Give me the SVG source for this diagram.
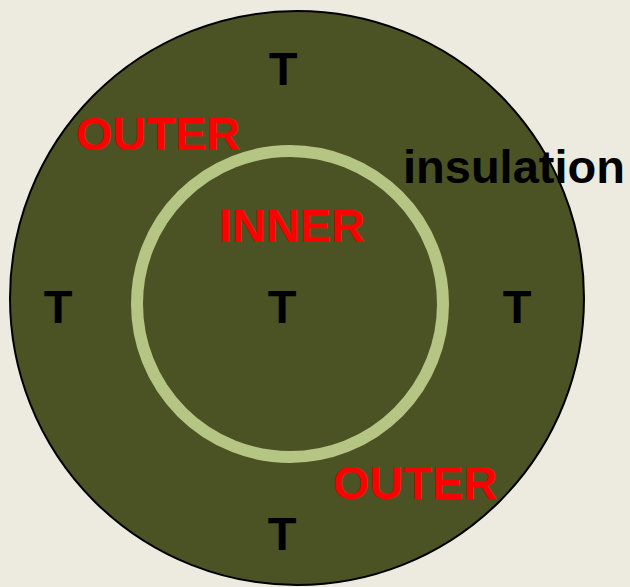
<svg xmlns="http://www.w3.org/2000/svg" width="630" height="587" viewBox="0 0 630 587">
<style>
.lbl{font-family:"Liberation Sans",Arial,sans-serif;font-weight:bold;font-size:47px}
.t{fill:#000;text-anchor:middle}
.red{fill:#FF0000}
</style>
<rect width="630" height="587" fill="#EDEBE0"/>
<g id="outer-circle"><circle cx="297" cy="298" r="287" fill="#4B5224" stroke="#000" stroke-width="2"/></g>
<g id="inner-ring"><circle cx="290" cy="304" r="153" fill="none" stroke="#B5C584" stroke-width="12"/></g>
<g id="labels">
<text class="lbl t" x="283" y="85">T</text>
<text class="lbl red" x="76" y="150">OUTER</text>
<text class="lbl" x="403" y="183" fill="#000">insulation</text>
<text class="lbl red" x="219" y="242">INNER</text>
<text class="lbl t" x="58" y="323">T</text>
<text class="lbl t" x="282" y="323">T</text>
<text class="lbl t" x="517" y="323">T</text>
<text class="lbl red" x="333" y="499">OUTER</text>
<text class="lbl t" x="282" y="550">T</text>
</g>
</svg>
